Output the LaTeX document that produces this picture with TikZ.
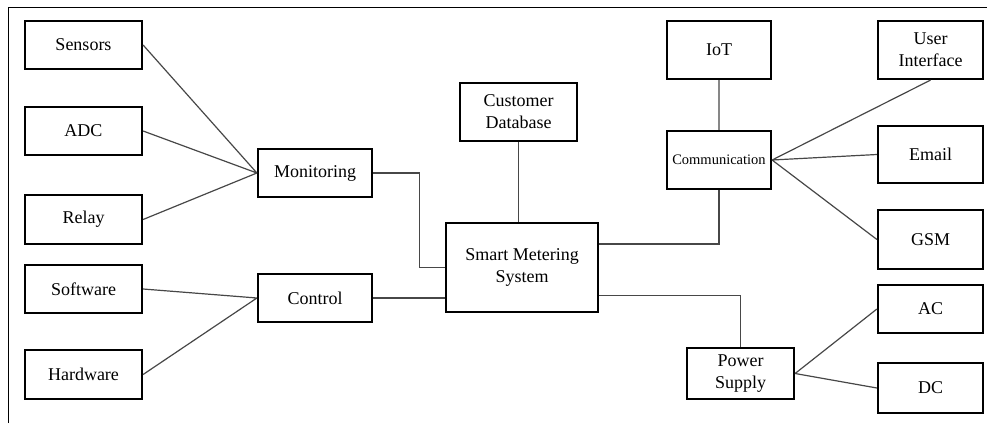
\documentclass[tikz,border=0pt]{standalone}
\usepackage{fontspec}
\setmainfont{LiberationSerif}[Extension=.ttf, UprightFont=*-Regular, BoldFont=*-Bold, ItalicFont=*-Italic]
\usetikzlibrary{shapes,calc}

\begin{document}
\begin{tikzpicture}[x=1pt,y=-1pt]
				\tikzstyle{block}=[rectangle, draw, line width=2.2pt, fill=white, inner sep=0pt, align=center, font=\fontsize{18}{22}\selectfont]
				\tikzstyle{every node}=[block]
				\tikzstyle{wire}=[draw=black!72, line width=1.2pt]
				\useasboundingbox (0,0) rectangle (987,423);
				\draw[line width=1pt] (8,423) -- (8,7) -- (987,7);
				% left column
				\node[minimum width=117pt, minimum height=48pt] (sens) at (83.5,45) {Sensors};
				\node[minimum width=117pt, minimum height=48pt] (adc) at (83.5,131) {ADC};
				\node[minimum width=117pt, minimum height=49pt] (relay) at (83.5,219.5) {Relay};
				\node[minimum width=117pt, minimum height=48pt] (soft) at (83.5,289) {Software};
				\node[minimum width=117pt, minimum height=49pt] (hard) at (83.5,374.5) {Hardware};
				\node[minimum width=114pt, minimum height=48pt] (mon) at (315,173) {Monitoring};
				\node[minimum width=114pt, minimum height=48pt] (ctl) at (315,298) {Control};
				% centre
				\node[minimum width=117pt, minimum height=58pt] (cdb) at (518.5,112) {Customer\\Database};
				\node[minimum width=152pt, minimum height=89pt] (sms) at (522,267.5) {Smart Metering\\System};
				% right side
				\node[minimum width=104pt, minimum height=58pt] (iot) at (719,50) {IoT};
				\node[minimum width=104pt, minimum height=58pt, font=\fontsize{14.5}{17}\selectfont] (comm) at (719,160) {Communication};
				\node[minimum width=107pt, minimum height=51pt] (psu) at (740.5,373.5) {Power\\Supply};
				\node[minimum width=105pt, minimum height=58pt] (ui) at (930.5,50) {User\\Interface};
				\node[minimum width=105pt, minimum height=57pt] (mail) at (930.5,154.5) {Email};
				\node[minimum width=105pt, minimum height=59pt] (gsm) at (930.5,239.5) {GSM};
				\node[minimum width=105pt, minimum height=48pt] (ac) at (930.5,309) {AC};
				\node[minimum width=105pt, minimum height=50pt] (dc) at (930.5,388) {DC};

				\path[wire] (sens.east) -- (mon.west)
					(adc.east) -- (mon.west)
					(relay.east) -- (mon.west)
					(soft.east) -- (ctl.west)
					(hard.east) -- (ctl.west);
				\path[wire] (mon.east) -- ++(46,0) |- (sms.west)
					(ctl.east) -- (ctl.east -| sms.west)
					(cdb.south) -- (cdb.south |- sms.north)
					([yshift=23.5pt]sms.east) -| (comm.south)
					([yshift=-28pt]sms.east) -| (psu.north);
				\path[wire] (iot.south) -- (comm.north)
					(comm.east) -- (ui.south)
					(comm.east) -- (mail.west)
					(comm.east) -- (gsm.west)
					(psu.east) -- (ac.west)
					(psu.east) -- (dc.west);
			\end{tikzpicture}
\end{document}
